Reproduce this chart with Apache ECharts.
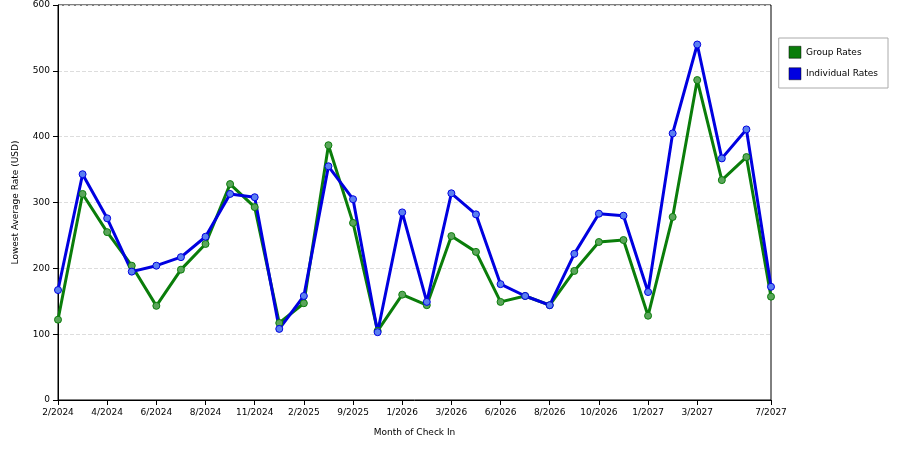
<!DOCTYPE html>
<html><head><meta charset="utf-8">
<script src="https://cdn.jsdelivr.net/npm/echarts@6/dist/echarts.min.js"></script>
<style>html,body{margin:0;background:#fff}#c{width:900px;height:450px}</style>
</head><body><div id="c"></div>
<script>
const categories = ['2/2024','','4/2024','','6/2024','','8/2024','','11/2024','','2/2025','','9/2025','','1/2026','','3/2026','','6/2026','','8/2026','','10/2026','','1/2027','','3/2027','','','7/2027'];
const groupRates = [122,313,255,204,143,198,237,328,293,117,147,387,269,105,160,144,249,225,149,158,144,196,240,243,128,278,486,334,369,157];
const individualRates = [167,343,276,195,204,217,248,313,308,108,158,355,305,103,285,149,314,282,176,158,144,222,283,280,164,405,540,367,411,172];
const chart = echarts.init(document.getElementById('c'));
const font = {fontFamily:'DejaVu Sans', fontSize:9, color:'#000'};
chart.setOption({
  animation:false,
  grid:{left:58,right:129,top:5,bottom:50,show:true,borderColor:'#000',borderWidth:1},
  legend:{right:12,top:38,orient:'vertical',itemWidth:12,itemHeight:12,itemGap:9,padding:[8,10],
    borderColor:'#aaa',borderWidth:1,textStyle:font,icon:'rect',
    data:[{name:'Group Rates',itemStyle:{color:'#0a7d0a',borderColor:'#000',borderWidth:0.5}},
          {name:'Individual Rates',itemStyle:{color:'#0000e0',borderColor:'#000',borderWidth:0.5}}]},
  xAxis:{type:'category',data:categories,boundaryGap:false,name:'Month of Check In',nameLocation:'middle',nameGap:28,
    nameTextStyle:font,axisLine:{lineStyle:{color:'#000'}},
    axisTick:{interval:(i,v)=>v!=='',lineStyle:{color:'#000'}},
    axisLabel:Object.assign({interval:0},font),splitLine:{show:false}},
  yAxis:{type:'value',min:0,max:600,interval:100,name:'Lowest Average Rate (USD)',nameLocation:'middle',nameGap:38,
    nameTextStyle:font,axisLine:{show:true,lineStyle:{color:'#000'}},axisTick:{show:true,lineStyle:{color:'#000'}},
    axisLabel:font,splitLine:{lineStyle:{color:'#ddd',type:'dashed'}}},
  series:[
    {name:'Group Rates',type:'line',data:groupRates,color:'#0a7d0a',lineStyle:{width:3,color:'#0a7d0a'},
     symbol:'circle',symbolSize:7,itemStyle:{color:'#5aa55a',borderColor:'#0a7d0a',borderWidth:1}},
    {name:'Individual Rates',type:'line',data:individualRates,color:'#0000e0',lineStyle:{width:3,color:'#0000e0'},
     symbol:'circle',symbolSize:7,itemStyle:{color:'#5a7ff0',borderColor:'#0000e0',borderWidth:1}}
  ]
});
</script></body></html>
